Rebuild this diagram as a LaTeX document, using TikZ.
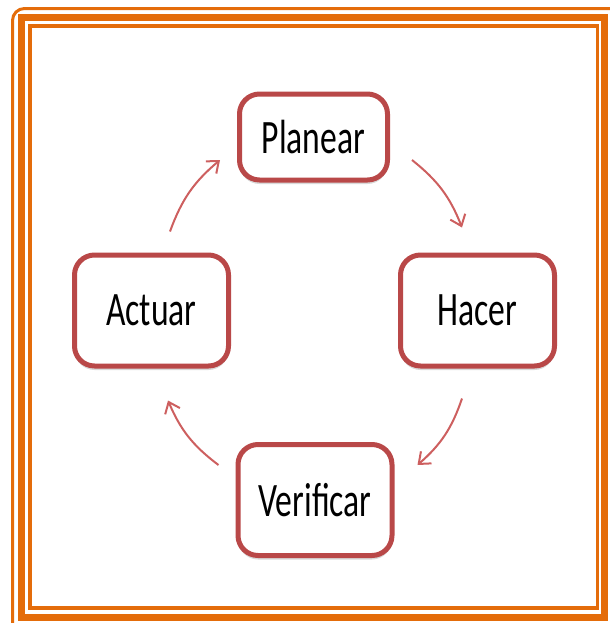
\documentclass[tikz,border=0pt]{standalone}
\usepackage{fontspec}
\setmainfont{Carlito}[FakeStretch=0.7]
\usetikzlibrary{arrows.meta,shadows}
\definecolor{framecol}{RGB}{228,108,10}
\definecolor{boxred}{RGB}{185,72,72}
\definecolor{arrowred}{RGB}{205,95,95}

\tikzset{
  stage/.style={draw=boxred,line width=2.5pt,fill=white,rounded corners=10pt,
    minimum width=77pt,minimum height=55.5pt,font=\fontsize{24}{28}\selectfont,
    drop shadow={shadow xshift=0pt,shadow yshift=-2pt,opacity=0.3}},
  cyclearrow/.style={->,arrowred,line width=1pt,>={Straight Barb[length=5pt,width=8pt]}}
}

\begin{document}
\begin{tikzpicture}[x=0.5pt,y=-0.5pt]
      \useasboundingbox (0,0) rectangle (610,623);
      \clip (0,0) rectangle (610,623);
      % frame
      \draw [framecol,line width=1.5pt,rounded corners=6pt] (12.5,8.5) rectangle (640,650);
      \draw [framecol,line width=3.5pt] (21.5,17.5) rectangle (604.5,617);
      \draw [framecol,line width=1.75pt] (30,26) rectangle (597.5,608);
      % stages
      \node [stage,minimum width=74pt,minimum height=43pt] (planear) at (313.5,137) {Planear};
      \node [stage] (hacer) at (477.5,310.5) {Hacer};
      \node [stage] (actuar) at (151.5,310.5) {Actuar};
      \node [stage] (verificar) at (315,500) {Verificar};
      % cycle
      \draw [cyclearrow] ([shift={(18.5,-21)}]actuar.north) to [bend left=15] ([shift={(-17,23)}]planear.west);
      \draw [cyclearrow] ([shift={(22,23)}]planear.east) to [bend left=15] ([shift={(-15.5,-25)}]hacer.north);
      \draw [cyclearrow] ([shift={(-15.5,30)}]hacer.south) to [bend left=15] ([shift={(23,-35)}]verificar.east);
      \draw [cyclearrow] ([shift={(-17,-35)}]verificar.west) to [bend left=15] ([shift={(16.5,32)}]actuar.south);
    \end{tikzpicture}
\end{document}
